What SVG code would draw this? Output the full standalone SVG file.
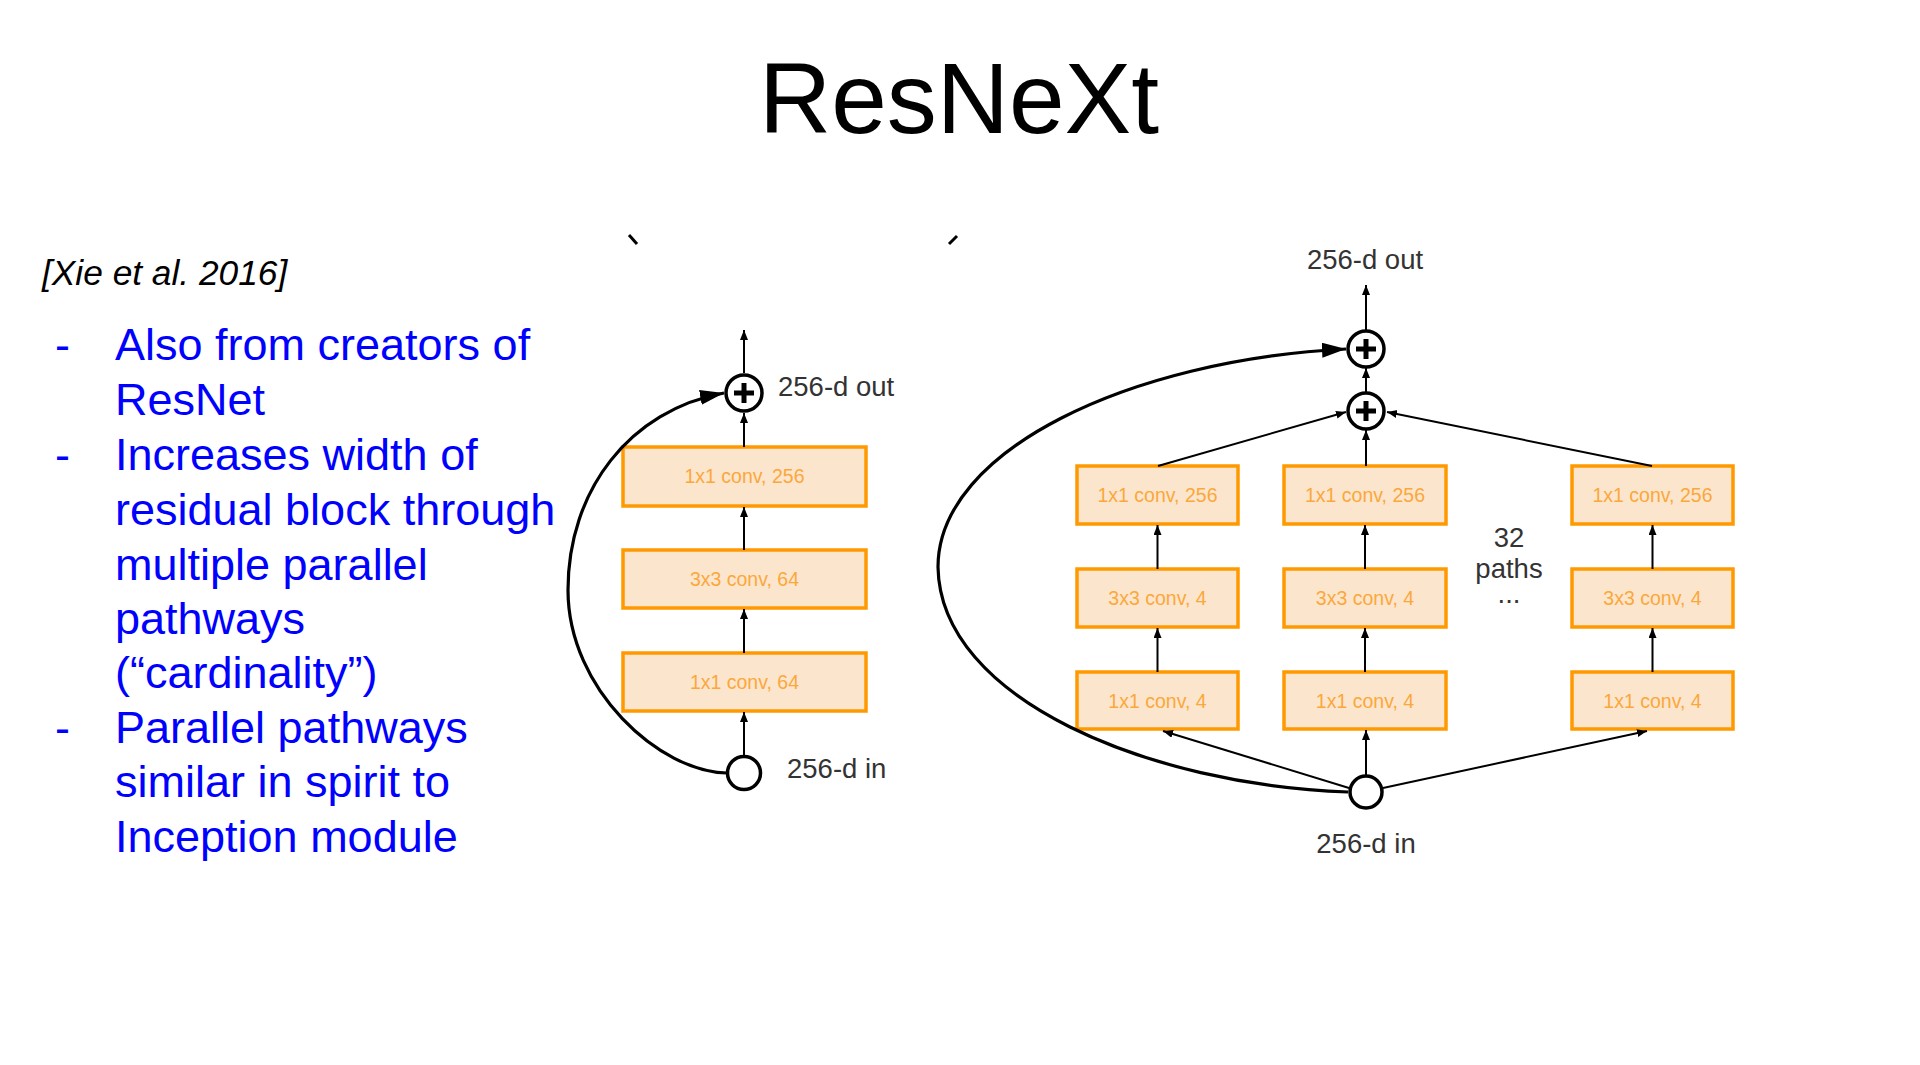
<svg xmlns="http://www.w3.org/2000/svg" width="1920" height="1065" viewBox="0 0 1920 1065">
  <style>
    .title { font-family: "Liberation Sans", Arial, sans-serif; font-size: 100px; fill: #000; }
    .cite { font-family: "Liberation Sans", Arial, sans-serif; font-size: 35.3px; font-style: italic; fill: #000; }
    .bullet { font-family: "Liberation Sans", Arial, sans-serif; font-size: 45px; fill: #0000ff; }
    .box rect { fill: #fce5cd; stroke: #ff9900; stroke-width: 3.5; }
    .box text { font-family: "Liberation Sans", Arial, sans-serif; font-size: 19.5px; fill: #fba83b; text-anchor: middle; }
    .lbl { font-family: "Liberation Sans", Arial, sans-serif; font-size: 27.5px; fill: #333; }
    .node circle { fill: #fff; stroke: #000; stroke-width: 3.5; }
    .plus { stroke: #000; stroke-width: 5; }
    .edge { fill: none; stroke: #000; stroke-width: 2; marker-end: url(#arr); }
    .skip { fill: none; stroke: #000; stroke-width: 3.2; marker-end: url(#bigArr); }
  </style>
  <defs>
    <marker id="arr" markerUnits="userSpaceOnUse" markerWidth="11" markerHeight="9" refX="10" refY="4" orient="auto">
      <path d="M0,0 L10,4 L0,8 z" fill="#000"/>
    </marker>
    <marker id="bigArr" markerUnits="userSpaceOnUse" markerWidth="26" markerHeight="16" refX="24" refY="7.5" orient="auto">
      <path d="M0,0 L24,7.5 L0,15 z" fill="#000"/>
    </marker>
  </defs>

  <rect width="1920" height="1065" fill="#fff"/>

  <!-- heading and citation -->
  <text class="title" x="959" y="133" text-anchor="middle">ResNeXt</text>
  <text class="cite" x="42" y="285">[Xie et al. 2016]</text>

  <!-- small marks above the left block -->
  <line x1="629" y1="235" x2="637" y2="244" stroke="#000" stroke-width="3"/>
  <line x1="957" y1="236" x2="949" y2="244" stroke="#000" stroke-width="3"/>

  <!-- bullet list -->
  <g id="bullets">
    <text class="bullet" x="55" y="360">-</text>
    <text class="bullet" x="115" y="360">Also from creators of</text>
    <text class="bullet" x="115" y="415">ResNet</text>
    <text class="bullet" x="55" y="470">-</text>
    <text class="bullet" x="115" y="470">Increases width of</text>
    <text class="bullet" x="115" y="525">residual block through</text>
    <text class="bullet" x="115" y="580">multiple parallel</text>
    <text class="bullet" x="115" y="634">pathways</text>
    <text class="bullet" x="115" y="688">(“cardinality”)</text>
    <text class="bullet" x="55" y="743">-</text>
    <text class="bullet" x="115" y="743">Parallel pathways</text>
    <text class="bullet" x="115" y="797">similar in spirit to</text>
    <text class="bullet" x="115" y="852">Inception module</text>
  </g>

  <!-- ResNet bottleneck block (left) -->
  <g id="res-conv1x1-256" class="box">
    <rect x="623" y="447" width="243" height="59"/>
    <text x="744.5" y="483">1x1 conv, 256</text>
  </g>
  <g id="res-conv3x3-64" class="box">
    <rect x="623" y="550" width="243" height="58"/>
    <text x="744.5" y="586">3x3 conv, 64</text>
  </g>
  <g id="res-conv1x1-64" class="box">
    <rect x="623" y="653" width="243" height="58"/>
    <text x="744.5" y="689">1x1 conv, 64</text>
  </g>
  <g id="res-sum" class="node">
    <circle cx="744" cy="393" r="18"/>
    <line class="plus" x1="734" y1="393" x2="754" y2="393"/>
    <line class="plus" x1="744" y1="383" x2="744" y2="403"/>
    <text class="lbl" x="778" y="396">256-d out</text>
  </g>
  <g id="res-in" class="node">
    <circle cx="744" cy="773" r="16.5"/>
    <text class="lbl" x="787" y="778">256-d in</text>
  </g>

  <!-- ResNeXt block (right) -->
  <g id="nx-a-conv1x1-256" class="box">
    <rect x="1077" y="466" width="161" height="58"/>
    <text x="1157.5" y="502">1x1 conv, 256</text>
  </g>
  <g id="nx-a-conv3x3-4" class="box">
    <rect x="1077" y="569" width="161" height="58"/>
    <text x="1157.5" y="605">3x3 conv, 4</text>
  </g>
  <g id="nx-a-conv1x1-4" class="box">
    <rect x="1077" y="672" width="161" height="57"/>
    <text x="1157.5" y="708">1x1 conv, 4</text>
  </g>
  <g id="nx-b-conv1x1-256" class="box">
    <rect x="1284" y="466" width="162" height="58"/>
    <text x="1365" y="502">1x1 conv, 256</text>
  </g>
  <g id="nx-b-conv3x3-4" class="box">
    <rect x="1284" y="569" width="162" height="58"/>
    <text x="1365" y="605">3x3 conv, 4</text>
  </g>
  <g id="nx-b-conv1x1-4" class="box">
    <rect x="1284" y="672" width="162" height="57"/>
    <text x="1365" y="708">1x1 conv, 4</text>
  </g>
  <g id="nx-c-conv1x1-256" class="box">
    <rect x="1572" y="466" width="161" height="58"/>
    <text x="1652.5" y="502">1x1 conv, 256</text>
  </g>
  <g id="nx-c-conv3x3-4" class="box">
    <rect x="1572" y="569" width="161" height="58"/>
    <text x="1652.5" y="605">3x3 conv, 4</text>
  </g>
  <g id="nx-c-conv1x1-4" class="box">
    <rect x="1572" y="672" width="161" height="57"/>
    <text x="1652.5" y="708">1x1 conv, 4</text>
  </g>
  <g id="nx-paths-note">
    <text class="lbl" x="1509" y="547" text-anchor="middle" font-size="26">32</text>
    <text class="lbl" x="1509" y="578" text-anchor="middle" font-size="26">paths</text>
    <text class="lbl" x="1509" y="603" text-anchor="middle" font-size="26">...</text>
  </g>
  <g id="nx-out-sum" class="node">
    <circle cx="1366" cy="349" r="18"/>
    <line class="plus" x1="1356" y1="349" x2="1376" y2="349"/>
    <line class="plus" x1="1366" y1="339" x2="1366" y2="359"/>
    <text class="lbl" x="1365" y="269" text-anchor="middle">256-d out</text>
  </g>
  <g id="nx-path-sum" class="node">
    <circle cx="1366" cy="411" r="18"/>
    <line class="plus" x1="1356" y1="411" x2="1376" y2="411"/>
    <line class="plus" x1="1366" y1="401" x2="1366" y2="421"/>
  </g>
  <g id="nx-in" class="node">
    <circle cx="1366" cy="792" r="16"/>
    <text class="lbl" x="1366" y="853" text-anchor="middle">256-d in</text>
  </g>

  <!-- connectors -->
  <g id="connectors">
    <!-- ResNet block -->
    <line class="edge" x1="744" y1="755" x2="744" y2="712"/>
    <line class="edge" x1="744" y1="653" x2="744" y2="609"/>
    <line class="edge" x1="744" y1="550" x2="744" y2="507"/>
    <line class="edge" x1="744" y1="447" x2="744" y2="413"/>
    <line class="edge" x1="744" y1="373" x2="744" y2="330"/>
    <path class="skip" d="M727,773 C660,772 568,690 568,590 C568,490 630,410 724,393"/>

    <!-- ResNeXt paths -->
    <line class="edge" x1="1366" y1="775" x2="1366" y2="730"/>
    <line class="edge" x1="1349" y1="788" x2="1163" y2="731"/>
    <line class="edge" x1="1383" y1="788" x2="1647" y2="731"/>
    <line class="edge" x1="1157.5" y1="672" x2="1157.5" y2="628"/>
    <line class="edge" x1="1157.5" y1="569" x2="1157.5" y2="525"/>
    <line class="edge" x1="1365" y1="672" x2="1365" y2="628"/>
    <line class="edge" x1="1365" y1="569" x2="1365" y2="525"/>
    <line class="edge" x1="1652.5" y1="672" x2="1652.5" y2="628"/>
    <line class="edge" x1="1652.5" y1="569" x2="1652.5" y2="525"/>
    <line class="edge" x1="1158" y1="466" x2="1346" y2="412"/>
    <line class="edge" x1="1652" y1="466" x2="1387" y2="412"/>
    <line class="edge" x1="1366" y1="466" x2="1366" y2="430"/>
    <line class="edge" x1="1366" y1="392" x2="1366" y2="368"/>
    <line class="edge" x1="1366" y1="330" x2="1366" y2="285"/>
    <path class="skip" d="M1348,792 C1150,785 940,700 938,567 C938,450 1130,360 1346,349"/>
  </g>
</svg>
